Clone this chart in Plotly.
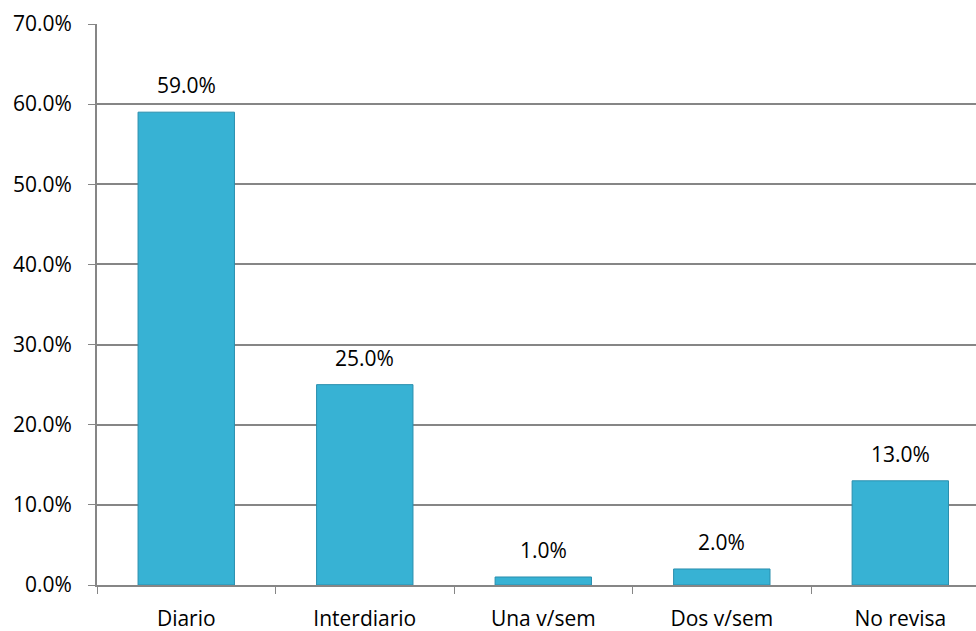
import plotly.graph_objects as go

categories = ["Diario", "Interdiario", "Una v/sem", "Dos v/sem", "No revisa"]
values = [59.0, 25.0, 1.0, 2.0, 13.0]
y_ticks = [0, 10, 20, 30, 40, 50, 60, 70]
y_tick_labels = [f"{v:.1f}%" for v in y_ticks]
value_labels = [f"{v:.1f}%" for v in values]

FONT = "Open Sans"

fig = go.Figure()
fig.add_trace(go.Bar(
    x=categories, y=values, width=0.54,
    marker=dict(color="#37b2d4", line=dict(color="#2a8fae", width=1)),
    hoverinfo="skip",
))

for c, v, t in zip(categories, values, value_labels):
    fig.add_annotation(x=c, y=v, text=t, showarrow=False, yanchor="bottom",
                       yshift=11, font=dict(family=FONT, size=21, color="#000"))

fig.update_layout(
    width=976, height=631,
    margin=dict(l=97, r=0, t=24, b=46),
    plot_bgcolor="white", paper_bgcolor="white",
    showlegend=False,
    xaxis=dict(
        range=[-0.5, 4.424], showline=True, linecolor="#868686", linewidth=2,
        ticks="outside", tickson="boundaries", ticklen=7, tickcolor="#868686",
        tickfont=dict(family=FONT, size=21, color="#000"), ticklabelstandoff=14,
        showgrid=False,
    ),
    yaxis=dict(
        range=[0, 70], tickvals=y_ticks, ticktext=y_tick_labels,
        showline=True, linecolor="#868686", linewidth=2,
        ticks="outside", ticklen=7, tickcolor="#868686",
        tickfont=dict(family=FONT, size=21, color="#000"), ticklabelstandoff=12,
        showgrid=True, gridcolor="#868686", gridwidth=1.5, zeroline=False,
    ),
)

fig.write_html("out.html", config={"displayModeBar": False},
               post_script="document.body.style.margin='0';document.body.style.overflow='hidden';")
